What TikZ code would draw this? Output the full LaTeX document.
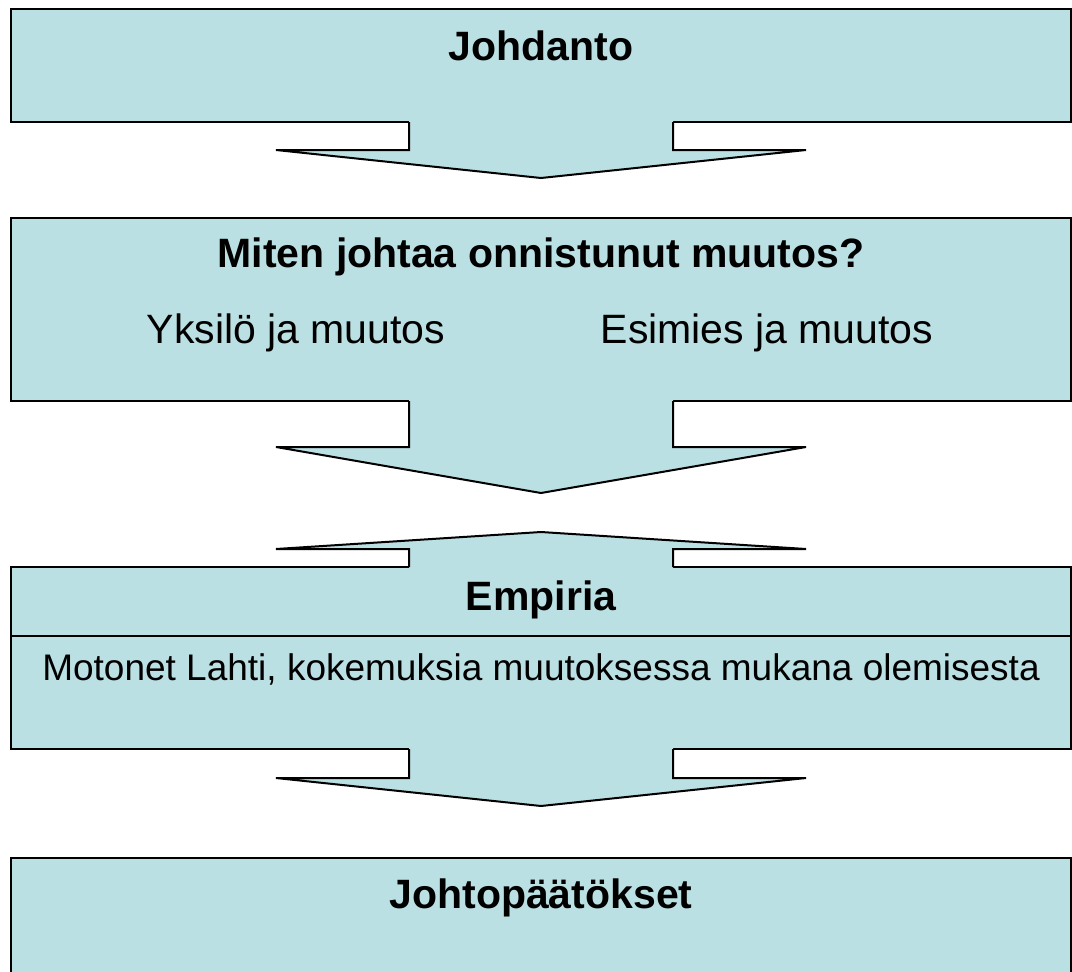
\documentclass[tikz,border=0pt]{standalone}
\usepackage{fontspec}
\setmainfont{Liberation Sans}
\usetikzlibrary{calc}
\definecolor{boxfill}{RGB}{187,224,227}
\tikzset{
  boxline/.style={draw=black, line width=2pt, line join=miter},
  blockbox/.style={boxline, fill=boxfill, rectangle, inner sep=0pt, outer sep=0pt, minimum width=1060pt},
  title/.style={anchor=base, inner sep=0pt, font=\fontsize{41}{41}\selectfont\bfseries},
  plain/.style={anchor=base, inner sep=0pt, font=\fontsize{41}{41}\selectfont},
  small/.style={anchor=base, inner sep=0pt, font=\fontsize{37}{37}\selectfont},
}
\begin{document}
\begin{tikzpicture}[x=1pt, y=-1pt]
\useasboundingbox (0,0) rectangle (1072,972);
\fill[white] (0,0) rectangle (1072,972);

% boxes
\node[blockbox, minimum height=113pt] (b1) at (541,65.5) {};
\node[blockbox, minimum height=183pt] (b2) at (541,309.5) {};
\node[blockbox, minimum height=182pt] (b3) at (541,658) {};
\node[blockbox, minimum height=150pt] (b4) at (541,933) {};
\draw[boxline] (b3.west |- 0,636) coordinate (d1) -- (b3.east |- 0,636) coordinate (d2);

% arrow 1 (down)
\coordinate (a1) at (b1.south);
\fill[boxfill] ($(a1)+(-132,-2)$) -- ($(a1)+(-132,28)$) -- ($(a1)+(-265,28)$) -- ($(a1)+(0,56)$) -- ($(a1)+(265,28)$) -- ($(a1)+(132,28)$) -- ($(a1)+(132,-2)$) -- cycle;
\draw[boxline] ($(a1)+(-132,0)$) -- ($(a1)+(-132,28)$) -- ($(a1)+(-265,28)$) -- ($(a1)+(0,56)$) -- ($(a1)+(265,28)$) -- ($(a1)+(132,28)$) -- ($(a1)+(132,0)$);

% arrow 2 (down)
\coordinate (a2) at (b2.south);
\fill[boxfill] ($(a2)+(-132,-2)$) -- ($(a2)+(-132,46)$) -- ($(a2)+(-265,46)$) -- ($(a2)+(0,92)$) -- ($(a2)+(265,46)$) -- ($(a2)+(132,46)$) -- ($(a2)+(132,-2)$) -- cycle;
\draw[boxline] ($(a2)+(-132,0)$) -- ($(a2)+(-132,46)$) -- ($(a2)+(-265,46)$) -- ($(a2)+(0,92)$) -- ($(a2)+(265,46)$) -- ($(a2)+(132,46)$) -- ($(a2)+(132,0)$);

% arrow up into box 3
\coordinate (u1) at (b3.north);
\fill[boxfill] ($(u1)+(-132,2)$) -- ($(u1)+(-132,-18)$) -- ($(u1)+(-265,-18)$) -- ($(u1)+(0,-35)$) -- ($(u1)+(265,-18)$) -- ($(u1)+(132,-18)$) -- ($(u1)+(132,2)$) -- cycle;
\draw[boxline] ($(u1)+(-132,0)$) -- ($(u1)+(-132,-18)$) -- ($(u1)+(-265,-18)$) -- ($(u1)+(0,-35)$) -- ($(u1)+(265,-18)$) -- ($(u1)+(132,-18)$) -- ($(u1)+(132,0)$);

% arrow 3 (down)
\coordinate (a3) at (b3.south);
\fill[boxfill] ($(a3)+(-132,-2)$) -- ($(a3)+(-132,29)$) -- ($(a3)+(-265,29)$) -- ($(a3)+(0,57)$) -- ($(a3)+(265,29)$) -- ($(a3)+(132,29)$) -- ($(a3)+(132,-2)$) -- cycle;
\draw[boxline] ($(a3)+(-132,0)$) -- ($(a3)+(-132,29)$) -- ($(a3)+(-265,29)$) -- ($(a3)+(0,57)$) -- ($(a3)+(265,29)$) -- ($(a3)+(132,29)$) -- ($(a3)+(132,0)$);

% texts
\node[title] (t1) at (541,60) {Johdanto};
\node[title] (t2) at (541,267) {Miten johtaa onnistunut muutos?};
\node[plain] (t2a) at (296,343) {Yksilö ja muutos};
\node[plain] (t2b) at (767,343) {Esimies ja muutos};
\node[title] (t3) at (541,610) {Empiria};
\node[small] (t3a) at (541,680) {Motonet Lahti, kokemuksia muutoksessa mukana olemisesta};
\node[title] (t4) at (541,908) {Johtopäätökset};
\end{tikzpicture}
\end{document}
